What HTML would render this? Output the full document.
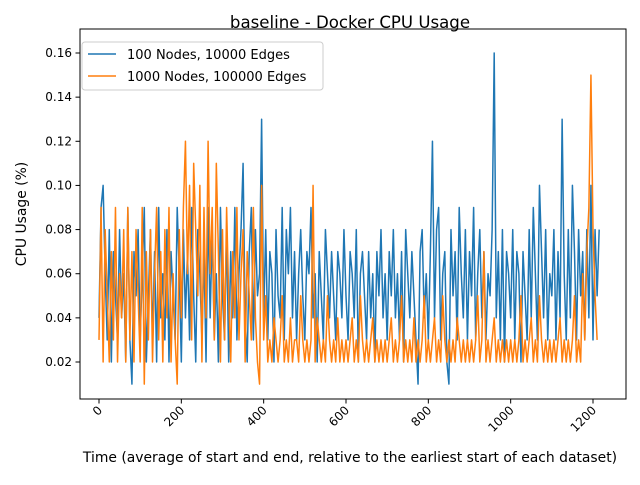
<!DOCTYPE html>
<html><head><meta charset="utf-8"><style>
body{margin:0;background:#fff;font-family:"Liberation Sans","DejaVu Sans",sans-serif}
</style></head><body>
<svg id="chart" width="640" height="480" xmlns="http://www.w3.org/2000/svg" font-family="DejaVu Sans, Liberation Sans, sans-serif">
<rect width="640" height="480" fill="#fff"/>
<text x="350" y="28" font-size="16.6" text-anchor="middle">baseline - Docker CPU Usage</text>
<g id="plot"></g>
<rect x="80" y="29" width="546" height="370" fill="none" stroke="#000" stroke-width="1"/>
<text x="350" y="462" font-size="13.9" text-anchor="middle">Time (average of start and end, relative to the earliest start of each dataset)</text>
<text transform="translate(26,214) rotate(-90)" font-size="13.9" text-anchor="middle">CPU Usage (%)</text>
<g>
<rect x="82" y="42" width="241" height="48" rx="3" fill="#fff" fill-opacity="0.8" stroke="#ccc"/>
<line x1="88" y1="54" x2="116" y2="54" stroke="#1f77b4" stroke-width="1.5"/>
<text x="127" y="59" font-size="13">100 Nodes, 10000 Edges</text>
<line x1="88" y1="76" x2="116" y2="76" stroke="#ff7f0e" stroke-width="1.5"/>
<text x="127" y="81" font-size="13">1000 Nodes, 100000 Edges</text>
</g>
</svg>
<script>
// sample spacing in time units; values in hundredths of a percent
const step = 5;
const blueVals = [4,9,10,6,3,8,2,7,5,3,8,4,6,2,9,3,1,7,5,8,
3,6,9,2,5,8,3,7,2,9,4,6,3,8,2,7,5,3,9,6,
2,8,4,7,3,9,5,2,8,6,3,7,2,9,4,8,3,6,2,9,
5,3,8,2,7,4,9,3,6,8,11,4,2,7,9,3,8,5,6,13,
4,8,3,7,6,2,8,5,4,9,3,8,6,9,4,7,3,6,8,5,
3,7,6,9,4,6,2,7,5,3,8,6,4,7,5,3,7,6,4,8,
5,3,7,6,4,8,2,6,7,5,3,7,4,6,2,7,5,8,4,6,
3,7,5,8,4,6,3,7,2,8,6,4,7,5,3,1,7,8,4,6,
3,7,12,4,8,9,3,6,7,2,1,8,5,7,3,9,6,4,8,3,
7,5,9,3,6,8,4,7,3,6,5,8,16,4,7,3,8,2,7,6,
4,8,3,7,6,2,7,5,3,8,4,9,6,3,10,7,4,8,3,6,
5,8,3,7,4,13,6,3,8,4,10,7,3,8,5,7,3,8,4,10,
3,8,5,8];
const orangeVals = [3,9,2,8,5,2,7,3,9,2,6,4,8,2,9,3,7,2,8,5,
2,9,1,7,3,8,2,6,9,3,7,2,8,4,9,2,6,3,1,8,
4,9,12,6,10,3,11,8,5,10,2,9,4,12,6,9,3,11,7,2,
8,3,9,5,2,7,4,9,3,6,8,2,7,5,3,9,4,2,1,10,
3,5,2,3,2,4,3,2,3,5,2,3,2,4,2,3,3,2,5,3,
2,3,2,3,10,2,4,3,2,3,2,5,3,2,3,2,4,2,3,2,
3,2,3,4,2,3,2,5,3,2,3,2,3,4,2,3,2,3,2,3,
2,3,4,2,3,2,3,5,2,3,2,3,2,4,2,3,2,3,5,2,
3,2,3,4,2,3,2,5,3,2,3,2,3,2,4,3,2,3,2,3,
2,3,2,3,5,2,3,7,2,3,2,3,4,2,3,2,3,2,3,2,
3,2,3,2,3,5,2,3,2,3,4,2,3,2,5,3,2,3,2,3,
2,3,2,3,4,2,3,2,3,2,3,5,2,3,2,6,3,7,9,15,
8,5,3];
const xTicks = [0,200,400,600,800,1000,1200];
const yTicks = [0.02,0.04,0.06,0.08,0.10,0.12,0.14,0.16];

const NS="http://www.w3.org/2000/svg";
const sx = v => 99 + v*(593-99)/1200;
const sy = v => 362 - (v-0.02)*(362-53)/0.14;
const g = document.getElementById('plot');
function mk(t){return document.createElementNS(NS,t);}
xTicks.forEach(t=>{
  const l=mk('line');
  
  
  l.setAttribute('x1',sx(t));l.setAttribute('x2',sx(t));l.setAttribute('y1',399);l.setAttribute('y2',403.5);l.setAttribute('stroke','#000');
  g.appendChild(l);
  const tx=mk('text');
  
  
  tx.setAttribute('font-size','12');tx.setAttribute('text-anchor','end');
  tx.setAttribute('transform',`translate(${sx(t)+4},${411}) rotate(-45)`);
  tx.textContent=t;g.appendChild(tx);
});
yTicks.forEach(t=>{
  const l=mk('line');
  
  
  l.setAttribute('x1',75.5);l.setAttribute('x2',80);l.setAttribute('y1',sy(t));l.setAttribute('y2',sy(t));l.setAttribute('stroke','#000');
  g.appendChild(l);
  const tx=mk('text');
  
  
  tx.setAttribute('font-size','12');tx.setAttribute('text-anchor','end');
  tx.setAttribute('x',72);tx.setAttribute('y',sy(t)+4);
  tx.textContent=t.toFixed(2);g.appendChild(tx);
});
function series(vals,color,name){
  const p=mk('polyline');
  
  
  p.setAttribute('points',vals.map((v,i)=>sx(i*step).toFixed(2)+','+sy(v/100).toFixed(2)).join(' '));
  p.setAttribute('fill','none');p.setAttribute('stroke',color);p.setAttribute('stroke-width','1.5');p.setAttribute('stroke-linejoin','round');
  g.appendChild(p);
}
series(blueVals,'#1f77b4','series-100-nodes');
series(orangeVals,'#ff7f0e','series-1000-nodes');
</script>
</body></html>
